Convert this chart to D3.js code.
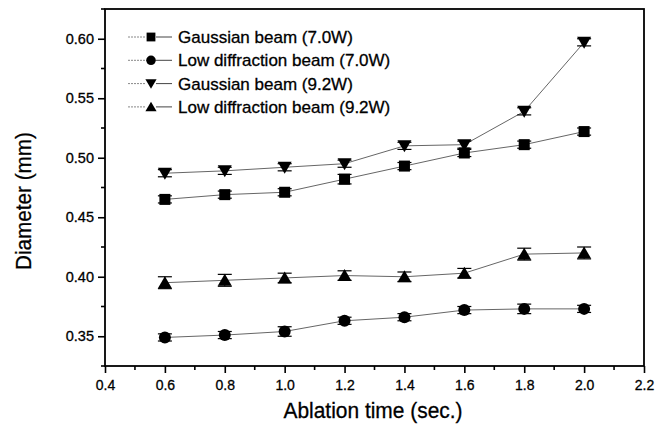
<!DOCTYPE html>
<html>
<head>
<meta charset="utf-8">
<script src="https://cdn.jsdelivr.net/npm/d3@7"></script>
<style>
  body { margin: 0; background: #fff; }
  svg { display: block; font-family: Arial, "Liberation Sans", sans-serif; }
  svg text { stroke: #000; stroke-width: 0.3px; }
</style>
</head>
<body>
<svg id="chart" width="662" height="432"></svg>
<script>
// Ablation time (sec.)
const times = [0.6, 0.8, 1.0, 1.2, 1.4, 1.6, 1.8, 2.0];

// Diameter values (mm)
const gauss70 = [0.465, 0.469, 0.471, 0.482, 0.493, 0.504, 0.511, 0.522];
const lowdiff70 = [0.349, 0.351, 0.354, 0.363, 0.366, 0.372, 0.373, 0.373];
const gauss92 = [0.487, 0.489, 0.492, 0.495, 0.510, 0.511, 0.539, 0.597];
const lowdiff92 = [0.395, 0.397, 0.399, 0.401, 0.400, 0.403, 0.419, 0.420];

// error bar half-heights
const errGauss70 = [0.003, 0.003, 0.003, 0.004, 0.003, 0.003, 0.003, 0.003];
const errLowdiff70 = [0.003, 0.003, 0.004, 0.003, 0.003, 0.003, 0.004, 0.003];
const errGauss92 = [0.003, 0.003, 0.003, 0.003, 0.003, 0.003, 0.003, 0.003];
const errLowdiff92 = [0.005, 0.005, 0.004, 0.004, 0.004, 0.004, 0.005, 0.005];

const seriesNames = [
  'Gaussian beam (7.0W)',
  'Low diffraction beam (7.0W)',
  'Gaussian beam (9.2W)',
  'Low diffraction beam (9.2W)'
];
const seriesSymbols = ['square', 'circle', 'down', 'up'];

const xTicks = [0.4, 0.6, 0.8, 1.0, 1.2, 1.4, 1.6, 1.8, 2.0, 2.2];
const yTicks = [0.35, 0.40, 0.45, 0.50, 0.55, 0.60];

const series = [
  { name: seriesNames[0], sym: seriesSymbols[0], vals: gauss70, err: errGauss70 },
  { name: seriesNames[1], sym: seriesSymbols[1], vals: lowdiff70, err: errLowdiff70 },
  { name: seriesNames[2], sym: seriesSymbols[2], vals: gauss92, err: errGauss92 },
  { name: seriesNames[3], sym: seriesSymbols[3], vals: lowdiff92, err: errLowdiff92 }
];

const svg = d3.select('#chart');
const plotLeft = 105, plotRight = 644, plotTop = 9, plotBottom = 366;

const x = d3.scaleLinear().domain([0.4, 2.2]).range([plotLeft, plotRight]);
const y = d3.scaleLinear().domain([0.325, 0.625]).range([plotBottom, plotTop]);

// draw a marker shape centred at 0,0
function marker(g, sym) {
  if (sym === 'square') {
    g.append('rect').attr('x', -5.5).attr('y', -5.5).attr('width', 11).attr('height', 11).attr('fill', '#000');
  } else if (sym === 'circle') {
    g.append('circle').attr('r', 6).attr('fill', '#000');
  } else if (sym === 'down') {
    g.append('path').attr('d', 'M-7,-5.5L7,-5.5L0,6.5Z').attr('fill', '#000');
  } else {
    g.append('path').attr('d', 'M-7,5.5L7,5.5L0,-6.5Z').attr('fill', '#000');
  }
}

// frame
svg.append('rect')
  .attr('x', plotLeft).attr('y', plotTop)
  .attr('width', plotRight - plotLeft).attr('height', plotBottom - plotTop)
  .attr('fill', 'none').attr('stroke', '#000').attr('stroke-width', 1.8);

// x axis
const xAxis = d3.axisBottom(x).tickValues(xTicks).tickFormat(d3.format('.1f')).tickSize(7).tickPadding(7);
const gx = svg.append('g').attr('transform', `translate(0,${plotBottom})`).call(xAxis);
gx.select('.domain').remove();
gx.selectAll('line').attr('stroke-width', 1.6);
gx.selectAll('text').attr('font-size', 14).attr('fill', '#000');
const xMinor = d3.range(0.5, 2.2, 0.2);
svg.append('g').selectAll('line').data(xMinor).join('line')
  .attr('x1', d => x(d)).attr('x2', d => x(d))
  .attr('y1', plotBottom).attr('y2', plotBottom + 4)
  .attr('stroke', '#000').attr('stroke-width', 1.6);

// y axis
const yAxis = d3.axisLeft(y).tickValues(yTicks).tickFormat(d3.format('.2f')).tickSize(7).tickPadding(4);
const gy = svg.append('g').attr('transform', `translate(${plotLeft},0)`).call(yAxis);
gy.select('.domain').remove();
gy.selectAll('line').attr('stroke-width', 1.6);
gy.selectAll('text').attr('font-size', 14.5).attr('fill', '#000');
const yMinor = d3.range(0.325, 0.626, 0.05);
svg.append('g').selectAll('line').data(yMinor).join('line')
  .attr('x1', plotLeft - 4).attr('x2', plotLeft)
  .attr('y1', d => y(d)).attr('y2', d => y(d))
  .attr('stroke', '#000').attr('stroke-width', 1.6);

// axis titles
svg.append('text')
  .attr('x', 373).attr('y', 418)
  .attr('text-anchor', 'middle')
  .attr('font-size', 22)
  .attr('textLength', 179)
  .attr('lengthAdjust', 'spacingAndGlyphs')
  .text('Ablation time (sec.)');
svg.append('text')
  .attr('transform', `translate(31,201) rotate(-90)`)
  .attr('text-anchor', 'middle')
  .attr('font-size', 22)
  .attr('textLength', 138)
  .attr('lengthAdjust', 'spacingAndGlyphs')
  .text('Diameter (mm)');

// series lines, error bars, markers
const line = d3.line().x((d, i) => x(times[i])).y(d => y(d));
series.forEach(s => {
  svg.append('path')
    .datum(s.vals)
    .attr('d', line)
    .attr('fill', 'none')
    .attr('stroke', '#666')
    .attr('stroke-width', 1);

  const eb = svg.append('g');
  s.vals.forEach((v, i) => {
    const cx = x(times[i]);
    const y1 = y(v + s.err[i]), y2 = y(v - s.err[i]);
    eb.append('line').attr('x1', cx).attr('x2', cx).attr('y1', y1).attr('y2', y2).attr('stroke', '#000');
    eb.append('line').attr('x1', cx - 7).attr('x2', cx + 7).attr('y1', y1).attr('y2', y1).attr('stroke', '#000').attr('stroke-width', 1.2);
    eb.append('line').attr('x1', cx - 7).attr('x2', cx + 7).attr('y1', y2).attr('y2', y2).attr('stroke', '#000').attr('stroke-width', 1.2);
  });

  s.vals.forEach((v, i) => {
    const g = svg.append('g').attr('transform', `translate(${x(times[i])},${y(v)})`);
    marker(g, s.sym);
  });
});

// legend
const legend = svg.append('g');
series.forEach((s, i) => {
  const ly = 37 + i * 23.3;
  legend.append('line')
    .attr('x1', 128).attr('x2', 146).attr('y1', ly).attr('y2', ly)
    .attr('stroke', '#888').attr('stroke-width', 1).attr('stroke-dasharray', '2,1');
  legend.append('line')
    .attr('x1', 156).attr('x2', 172).attr('y1', ly).attr('y2', ly)
    .attr('stroke', '#444').attr('stroke-width', 1);
  const g = legend.append('g').attr('transform', `translate(151,${ly}) scale(0.8)`);
  marker(g, s.sym);
  legend.append('text')
    .attr('x', 178).attr('y', ly + 6)
    .attr('font-size', 17)
    .text(s.name);
});
</script>
</body>
</html>
